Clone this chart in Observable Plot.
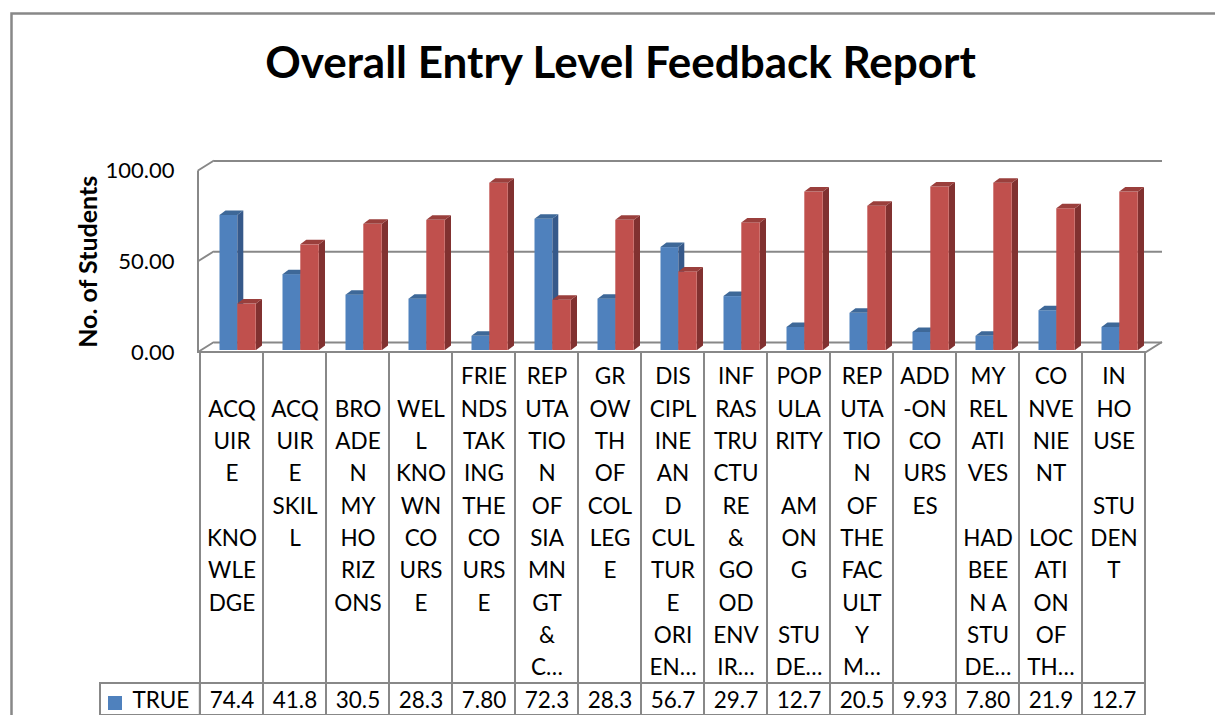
<!DOCTYPE html>
<html>
<head>
<meta charset="utf-8">
<script src="https://cdn.jsdelivr.net/npm/d3@7"></script>
<script src="https://cdn.jsdelivr.net/npm/@observablehq/plot@0.6"></script>
<style>
  html, body { margin: 0; padding: 0; overflow: hidden; background: white; }
</style>
</head>
<body>
<div id="chart"></div>
<script>
// ---- data ----
const title = "Overall Entry Level Feedback Report";
const yLabel = "No. of Students";
const categories = [
  "ACQUIRE KNOWLEDGE", "ACQUIRE SKILL", "BROADEN MY HORIZONS", "WELL KNOWN COURSE",
  "FRIENDS TAKING THE COURSE", "REPUTATION OF SIAMNGT & C…", "GROWTH OF COLLEGE",
  "DISCIPLINE AND CULTURE ORIEN…", "INFRASTRUCTURE & GOOD ENVIR…", "POPULARITY AMONG STUDE…",
  "REPUTATION OF THE FACULTY M…", "ADD-ON COURSES", "MY RELATIVES HAD BEEN A STUDE…",
  "CONVENIENT LOCATION OF TH…", "IN HOUSE STUDENT"
];
const labelLines = [
  ["", "ACQ", "UIR", "E", "", "KNO", "WLE", "DGE"],
  ["", "ACQ", "UIR", "E", "SKIL", "L"],
  ["", "BRO", "ADE", "N", "MY", "HO", "RIZ", "ONS"],
  ["", "WEL", "L", "KNO", "WN", "CO", "URS", "E"],
  ["FRIE", "NDS", "TAK", "ING", "THE", "CO", "URS", "E"],
  ["REP", "UTA", "TIO", "N", "OF", "SIA", "MN", "GT", "&", "C…"],
  ["GR", "OW", "TH", "OF", "COL", "LEG", "E"],
  ["DIS", "CIPL", "INE", "AN", "D", "CUL", "TUR", "E", "ORI", "EN…"],
  ["INF", "RAS", "TRU", "CTU", "RE", "&", "GO", "OD", "ENV", "IR…"],
  ["POP", "ULA", "RITY", "", "AM", "ON", "G", "", "STU", "DE…"],
  ["REP", "UTA", "TIO", "N", "OF", "THE", "FAC", "ULT", "Y", "M…"],
  ["ADD", "-ON", "CO", "URS", "ES"],
  ["MY", "REL", "ATI", "VES", "", "HAD", "BEE", "N A", "STU", "DE…"],
  ["CO", "NVE", "NIE", "NT", "", "LOC", "ATI", "ON", "OF", "TH…"],
  ["IN", "HO", "USE", "", "STU", "DEN", "T"]
];
const seriesNames = ["TRUE", "FALSE"];
const trueValues  = [74.4, 41.8, 30.5, 28.3, 7.8, 72.3, 28.3, 56.7, 29.7, 12.7, 20.5, 9.93, 7.8, 21.9, 12.7];
const falseValues = [25.6, 58.2, 69.5, 71.7, 92.2, 27.7, 71.7, 43.3, 70.3, 87.3, 79.5, 90.07, 92.2, 78.1, 87.3];
const yTicks = [0, 50, 100];

// ---- layout / style ----
const W = 1215, H = 715;
const mL = 198, mR = 69, mT = 168.5, mB = 365;
const bw = (W - mL - mR) / categories.length;
const gray = "#888888";
const blue = {front: "#4F81BD", side: "#36598A", top: "#3E6898"};
const red  = {front: "#C0504D", side: "#813130", top: "#9A3F3C"};
const depth = {dx: 6, dy: -4.5};
const wall = {dx: 16, dy: -10};

const trueRows = categories.map((c, i) => ({category: c, value: trueValues[i]}));
const falseRows = categories.map((c, i) => ({category: c, value: falseValues[i]}));

// 3D side + top faces of bars, positioned via the plot's scales
function faces(rows, left, right, col) {
  return (index, scales) => {
    const g = d3.create("svg:g");
    for (const r of rows) {
      const x0 = scales.x(r.category) + left, x1 = scales.x(r.category) + right;
      const yt = scales.y(r.value), yb = scales.y(0);
      g.append("path")
        .attr("d", `M${x1},${yt}L${x1 + depth.dx},${yt + depth.dy}L${x1 + depth.dx},${yb + depth.dy}L${x1},${yb}Z`)
        .attr("fill", col.side);
      g.append("path")
        .attr("d", `M${x0},${yt}L${x0 + depth.dx},${yt + depth.dy}L${x1 + depth.dx},${yt + depth.dy}L${x1},${yt}Z`)
        .attr("fill", col.top);
    }
    return g.node();
  };
}

// front edges of the 3D box (left wall edge, floor front edge, connectors)
function frontEdges(index, scales, channels, dims) {
  const x0 = dims.marginLeft, x1 = dims.width - dims.marginRight;
  const yf = t => scales.y(t) + 2;
  let d = `M${x0},${yf(100)}V${yf(0)}H${x1}l${wall.dx},${wall.dy}`;
  for (const t of yTicks) d += `M${x0},${yf(t)}l${wall.dx},${wall.dy}`;
  return d3.create("svg:path").attr("d", d).attr("fill", "none")
    .attr("stroke", gray).attr("stroke-width", 2).node();
}

const plot = Plot.plot({
  width: W, height: H,
  marginLeft: mL, marginRight: mR, marginTop: mT, marginBottom: mB,
  style: {fontFamily: "Lato, 'Open Sans', sans-serif", background: "white", color: "black", overflow: "hidden"},
  x: {domain: categories, padding: 0, axis: null},
  y: {domain: [0, 100], axis: null},
  marks: [
    // outer chart border
    Plot.frame({stroke: gray, strokeWidth: 2.5, insetLeft: -(mL - 11), insetTop: -(mT - 13), insetRight: -(mR + 10), insetBottom: -(mB + 10)}),
    // title
    Plot.text([title], {frameAnchor: "top", dx: -52, dy: -105, lineAnchor: "middle", fontSize: 44, fontWeight: "bold", fill: "black"}),
    // back wall gridlines
    Plot.ruleY(yTicks, {dx: wall.dx, dy: wall.dy + 2, stroke: gray, strokeWidth: 2}),
    frontEdges,
    // y tick labels
    Plot.text(yTicks, {y: d => d, text: d => d3.format(".2f")(d), frameAnchor: "left", dx: -24, dy: 2, textAnchor: "end", fontSize: 22, fill: "black"}),
    // y axis title
    Plot.text([yLabel], {frameAnchor: "left", dx: -110, dy: 2, rotate: -90, textAnchor: "middle", fontSize: 25, fontWeight: "bold", fill: "black"}),
    // bars
    Plot.barY(trueRows, {x: "category", y: "value", fill: blue.front, insetLeft: 19.5, insetRight: bw - 37.3}),
    faces(trueRows, 19.5, 37.3, blue),
    Plot.barY(falseRows, {x: "category", y: "value", fill: red.front, insetLeft: 37.3, insetRight: bw - 56}),
    faces(falseRows, 37.3, 56, red),
    // data table: column cells
    Plot.cell(categories, {x: d => d, fill: "none", stroke: gray, strokeWidth: 2, insetTop: 352 - mT, insetBottom: -mB}),
    // value row cells
    Plot.cell(categories, {x: d => d, fill: "none", stroke: gray, strokeWidth: 2, insetTop: 683 - mT, insetBottom: -mB}),
    // legend cell
    Plot.cell([categories[0]], {x: d => d, fill: "none", stroke: gray, strokeWidth: 2, insetLeft: -100, insetRight: bw, insetTop: 683 - mT, insetBottom: -mB}),
    // legend swatch + label
    Plot.dot([seriesNames[0]], {frameAnchor: "bottom-left", dx: -83.5, dy: 352.5, symbol: "square", r: 7.9, fill: blue.front}),
    Plot.text([seriesNames[0]], {frameAnchor: "bottom-left", dx: -66, dy: 357, textAnchor: "start", fontSize: 22.5, fill: "black"}),
    // category labels (wrapped)
    Plot.text(categories, {x: d => d, text: (d, i) => labelLines[i].join("\n"), frameAnchor: "bottom", dy: 11, lineAnchor: "top", lineHeight: 1.436, fontSize: 22.5, fill: "black"}),
    // TRUE values
    Plot.text(categories, {x: d => d, text: (d, i) => d3.format(".3r")(trueValues[i]), frameAnchor: "bottom", dy: 357, fontSize: 22.5, fill: "black"})
  ]
});
document.getElementById("chart").appendChild(plot);
</script>
</body>
</html>
